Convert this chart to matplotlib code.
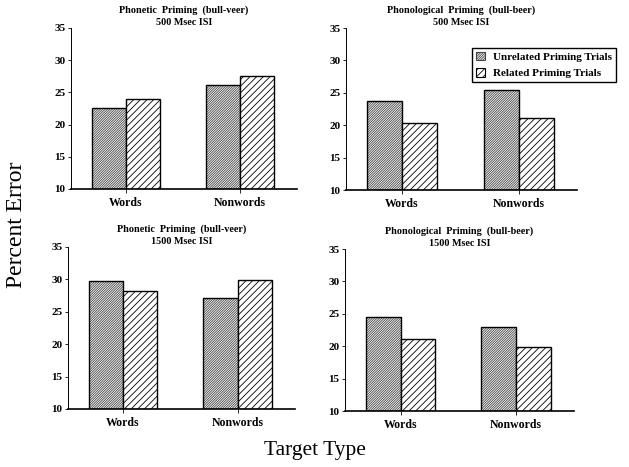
import matplotlib
matplotlib.use("Agg")
import matplotlib.pyplot as plt
import matplotlib.patches as mpatches
import numpy as np

plt.rcParams['font.family'] = ['Liberation Serif', 'DejaVu Serif']
plt.rcParams['hatch.linewidth'] = 0.6

categories = ["Words", "Nonwords"]
series_names = ["Unrelated Priming Trials", "Related Priming Trials"]

titles = [
    "Phonetic  Priming  (bull-veer)\n500 Msec ISI",
    "Phonological  Priming  (bull-beer)\n500 Msec ISI",
    "Phonetic  Priming  (bull-veer)\n1500 Msec ISI",
    "Phonological  Priming  (bull-beer)\n1500 Msec ISI",
]

unrelated = [
    [22.6, 26.1],
    [23.7, 25.5],
    [29.7, 27.2],
    [24.5, 22.9],
]
related = [
    [23.9, 27.5],
    [20.4, 21.1],
    [28.2, 29.9],
    [21.1, 19.9],
]

yticks = [10, 15, 20, 25, 30, 35]

fig = plt.figure(figsize=(6.29, 4.67), dpi=100)

positions = [
    [0.1129, 0.5953, 0.3593, 0.3448],
    [0.5501, 0.5931, 0.3672, 0.3469],
    [0.1081, 0.1242, 0.3609, 0.3469],
    [0.5485, 0.1199, 0.3641, 0.3469],
]

UNREL_HATCH = '/' * 14
REL_HATCH = '/' * 5
UNREL_COLOR = '#454545'
x = np.arange(len(categories))
w = 0.30
for i, pos in enumerate(positions):
    ax = fig.add_axes(pos)
    u = np.array(unrelated[i]) - 10
    r = np.array(related[i]) - 10
    # hatch fill (grey fine lines) then black outline
    ax.bar(x - w / 2, u, w, bottom=10, facecolor='white', edgecolor=UNREL_COLOR,
           hatch=UNREL_HATCH, linewidth=0)
    ax.bar(x - w / 2, u, w, bottom=10, fill=False, edgecolor='black', linewidth=1.0)
    ax.bar(x + w / 2, r, w, bottom=10, facecolor='white', edgecolor='black',
           hatch=REL_HATCH, linewidth=1.0)
    ax.set_ylim(10, 35)
    ax.set_xlim(-0.48, 1.5)
    ax.set_yticks(yticks)
    ax.set_yticklabels([str(t) for t in yticks], fontweight='bold', fontsize=8)
    ax.set_xticks(x)
    ax.set_xticklabels(categories, fontweight='bold', fontsize=8.5)
    ax.spines['top'].set_visible(False)
    ax.spines['right'].set_visible(False)
    ax.spines['left'].set_linewidth(0.7)
    ax.spines['bottom'].set_linewidth(1.2)
    ax.tick_params(axis='y', length=2, width=0.6, pad=2)
    ax.tick_params(axis='x', length=3, width=0.6, pad=3)
    ax.set_title(titles[i], fontsize=7.3, fontweight='bold', pad=2.5, linespacing=1.3)

h1 = mpatches.Patch(facecolor='white', edgecolor=UNREL_COLOR, hatch=UNREL_HATCH, linewidth=0.8)
h2 = mpatches.Patch(facecolor='white', edgecolor='black', hatch=REL_HATCH, linewidth=0.8)
fig.legend([h1, h2], series_names, loc='upper left', bbox_to_anchor=(0.750, 0.897),
           bbox_transform=fig.transFigure, prop={'weight': 'bold', 'size': 8},
           fancybox=False, edgecolor='black', framealpha=1, handlelength=0.8,
           handleheight=0.8, handletextpad=0.8, borderpad=0.35, labelspacing=0.55,
           borderaxespad=0)

fig.text(0.027, 0.518, "Percent Error", rotation=90, ha='center', va='center', fontsize=17)
fig.text(0.50, 0.035, "Target Type", ha='center', va='center', fontsize=15.5)

fig.savefig("out.png", dpi=100)
